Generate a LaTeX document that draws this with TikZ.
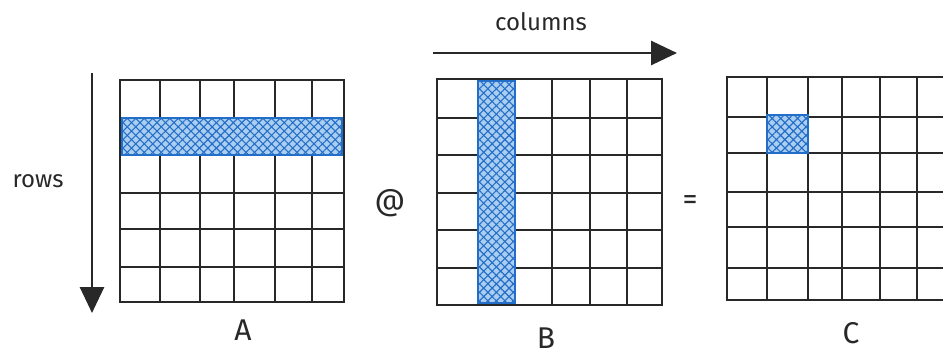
\documentclass[tikz,border=0pt]{standalone}
\usepackage{fontspec}
\setmainfont{Fira Sans}
\usetikzlibrary{arrows.meta, patterns.meta, positioning}

\definecolor{inkgray}{RGB}{40,40,40}
\definecolor{hatchblue}{RGB}{35,110,200}
\definecolor{paleblue}{RGB}{170,205,240}

\begin{document}
\begin{tikzpicture}[
        x=1pt, y=-1pt,
        matbox/.style={rectangle, draw=inkgray, line width=2.8pt, inner sep=0pt},
        gridline/.style={draw=inkgray, line width=2.2pt},
        hatch/.style={fill=paleblue, draw=hatchblue, line width=1.2pt,
            postaction={pattern={Lines[angle=45,distance=6pt,line width=1.1pt]}, pattern color=hatchblue},
            postaction={pattern={Lines[angle=-45,distance=6pt,line width=1.1pt]}, pattern color=hatchblue}},
        flow/.style={-{Triangle[length=26pt,width=24pt]}, line width=2.8pt, draw=inkgray},
        txt/.style={font=\fontsize{24}{26}\selectfont, text=inkgray, inner sep=0pt},
        op/.style={font=\fontsize{30}{32}\selectfont, text=inkgray, inner sep=0pt},
        letter/.style={font=\fontsize{30}{32}\selectfont, text=inkgray, inner sep=0pt}
    ]
    \useasboundingbox (0,0) rectangle (943,356);
    \clip (0,0) rectangle (943,356);

    % Matrix A
    \node[matbox, minimum width=224pt, minimum height=222pt] (A) at (232,191) {};
    \foreach \x in {160,200,234,275,312} \draw[gridline] (\x,80) -- (\x,302);
    \foreach \y in {118,155,193,229,267} \draw[gridline] (120,\y) -- (344,\y);
    \filldraw[hatch] (122,118) rectangle (342,155);

    % Matrix B
    \node[matbox, minimum width=225pt, minimum height=226pt] (B) at (549.5,192) {};
    \foreach \x in {478,515,552,590,627} \draw[gridline] (\x,79) -- (\x,305);
    \foreach \y in {118,155,193,230,268} \draw[gridline] (437,\y) -- (662,\y);
    \filldraw[hatch] (478,81) rectangle (515,303);

    % Matrix C
    \node[matbox, minimum width=228pt, minimum height=223pt] (C) at (841,188.5) {};
    \foreach \x in {767,808,842,880,917} \draw[gridline] (\x,77) -- (\x,300);
    \foreach \y in {117,153,192,227,268} \draw[gridline] (727,\y) -- (955,\y);
    \filldraw[hatch] (767,115) rectangle (808,153);

    % Directions
    \coordinate (rowstart) at (92,73);
    \coordinate (rowend) at (92,313);
    \draw[flow] (rowstart) -- (rowend);
    \node[txt] (rows) at (38,181) {rows};

    \coordinate (colstart) at (433,53);
    \coordinate (colend) at (677,53);
    \draw[flow] (colstart) -- (colend);
    \node[txt] (columns) at (541,22) {columns};

    % Operators
    \node[op] (at) at (390,203) {@};
    \node[op] (eq) at (690,203) {=};

    % Names
    \node[letter] (nameA) at (243,330) {A};
    \node[letter] (nameB) at (546,338) {B};
    \node[letter] (nameC) at (851,333) {C};

\end{tikzpicture}
\end{document}
